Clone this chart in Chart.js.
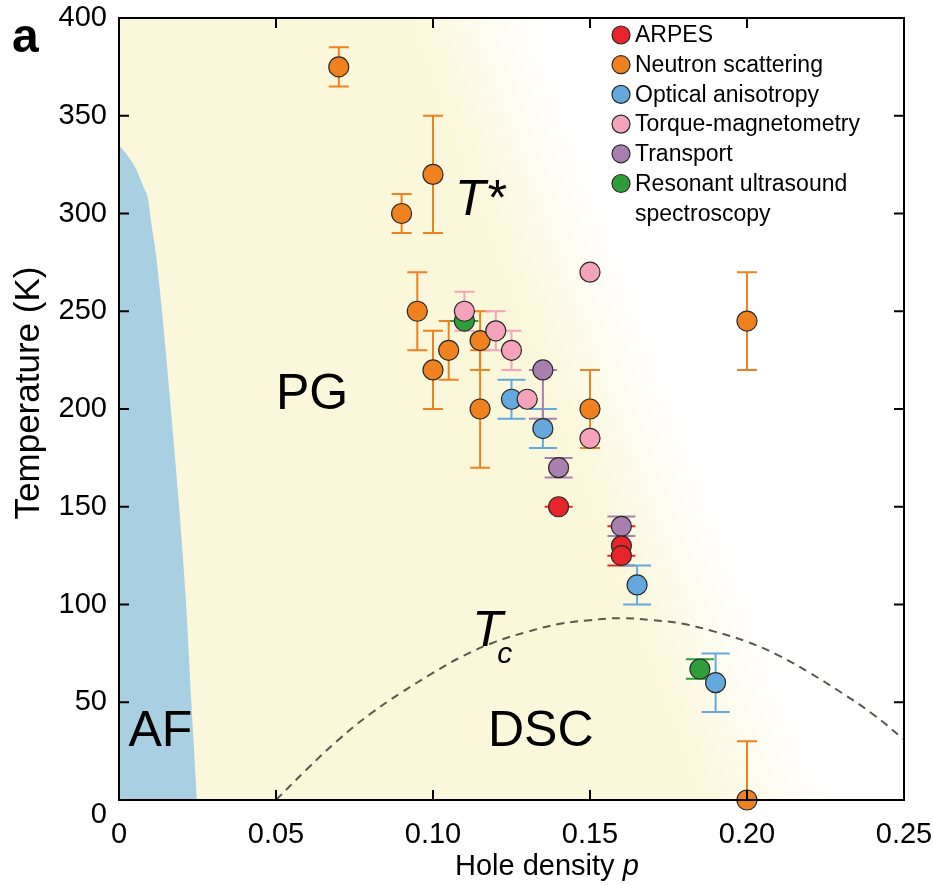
<!DOCTYPE html>
<html>
<head>
<meta charset="utf-8">
<script src="https://cdn.jsdelivr.net/npm/chart.js@4.4.1/dist/chart.umd.min.js"></script>
<style>
  html, body { margin: 0; padding: 0; background: #fff; }
  #wrap { width: 933px; height: 885px; }
</style>
</head>
<body>
<div id="wrap"><canvas id="myChart" width="933" height="885"></canvas></div>
<script>
const FONT = 'Arial, "Liberation Sans", Helvetica, sans-serif';

const xTicks = [0, 0.05, 0.1, 0.15, 0.2, 0.25];
const xTickLabels = ["0", "0.05", "0.10", "0.15", "0.20", "0.25"];
const yTicks = [0, 50, 100, 150, 200, 250, 300, 350, 400];

const seriesNames = ["ARPES", "Neutron scattering", "Optical anisotropy", "Torque-magnetometry", "Transport", "Resonant ultrasound spectroscopy"];
const seriesColors = ["#e8232a", "#f0811f", "#64a9dd", "#f4a3bb", "#a97fb2", "#2f9e3a"];

// ARPES
const arpesP = [0.14, 0.16, 0.16];
const arpesT = [150, 130, 125];
const arpesLo = [150, 120, 125];
const arpesHi = [150, 140, 125];

// neutron scattering
const neutronP = [0.07, 0.09, 0.10, 0.095, 0.10, 0.105, 0.115, 0.115, 0.15, 0.20, 0.20];
const neutronT = [375, 300, 320, 250, 220, 230, 235, 200, 200, 245, 0];
const neutronLo = [365, 290, 290, 230, 200, 215, 220, 170, 180, 220, 0];
const neutronHi = [385, 310, 350, 270, 240, 245, 250, 230, 220, 270, 30];

// optical anisotropy
const opticalP = [0.125, 0.135, 0.165, 0.19];
const opticalT = [205, 190, 110, 60];
const opticalLo = [195, 180, 100, 45];
const opticalHi = [215, 200, 120, 75];

// torque magnetometry
const torqueP = [0.11, 0.12, 0.125, 0.13, 0.15, 0.15];
const torqueT = [250, 240, 230, 205, 270, 185];
const torqueLo = [240, 230, 220, 205, 270, 185];
const torqueHi = [260, 250, 240, 205, 270, 185];

// transport
const transportP = [0.135, 0.14, 0.16];
const transportT = [220, 170, 140];
const transportLo = [195, 165, 135];
const transportHi = [220, 175, 145];

// resonant ultrasound
const rusP = [0.11, 0.185];
const rusT = [245, 67];
const rusLo = [245, 62];
const rusHi = [245, 72];

// AF boundary (p, T)
const afP = [0, 0.003, 0.005, 0.0077, 0.0093, 0.0102, 0.012, 0.0165, 0.0213, 0.023, 0.0248];
const afT = [335, 329, 324, 314, 307, 296, 276, 200, 102, 51, 0];

// superconducting dome Tc(p)
const tcP = [0.05, 0.06, 0.07, 0.08, 0.09, 0.10, 0.11, 0.12, 0.13, 0.14, 0.15, 0.16, 0.17, 0.18, 0.19, 0.20, 0.21, 0.22, 0.23, 0.24, 0.25];
const tcT = [0, 16, 31, 44, 55, 65, 74, 81, 86, 90, 92, 93, 92, 90, 86, 81, 74, 65, 55, 44, 31];

// pseudogap crossover edge (top point, bottom point)
const pgEdgeP = [0.112, 0.205];
const pgEdgeT = [400, 0];

const pts = (ps, ts) => ps.map((p, i) => ({ x: p, y: ts[i] }));

const series = [
  { p: arpesP, t: arpesT, lo: arpesLo, hi: arpesHi, cap: 28, order: 1 },
  { p: neutronP, t: neutronT, lo: neutronLo, hi: neutronHi, cap: 20, order: 5 },
  { p: opticalP, t: opticalT, lo: opticalLo, hi: opticalHi, cap: 28, order: 3 },
  { p: torqueP, t: torqueT, lo: torqueLo, hi: torqueHi, cap: 20, order: 0 },
  { p: transportP, t: transportT, lo: transportLo, hi: transportHi, cap: 28, order: 2 },
  { p: rusP, t: rusT, lo: rusLo, hi: rusHi, cap: 28, order: 4 },
];

const pointSets = series.map((s, i) => ({
  label: seriesNames[i],
  data: pts(s.p, s.t),
  backgroundColor: seriesColors[i],
  borderColor: "#2a2a2a",
  borderWidth: 1.2,
  pointRadius: 10,
  pointHoverRadius: 10,
  order: s.order,
  clip: false,
}));

// yellow PG background + error bars, under everything else
const underlay = {
  id: "underlay",
  beforeDatasetsDraw(chart) {
    const { ctx, chartArea: a, scales } = chart;
    const x = scales.x, y = scales.y;
    const x0 = x.getPixelForValue(pgEdgeP[0]), y0 = y.getPixelForValue(pgEdgeT[0]);
    const x1 = x.getPixelForValue(pgEdgeP[1]), y1 = y.getPixelForValue(pgEdgeT[1]);
    const len = Math.hypot(x1 - x0, y1 - y0);
    const nx = (y1 - y0) / len, ny = -(x1 - x0) / len;
    const cx = (x0 + x1) / 2, cy = (y0 + y1) / 2, fade = 60;
    const g = ctx.createLinearGradient(cx - nx * fade, cy - ny * fade, cx + nx * fade, cy + ny * fade);
    g.addColorStop(0, "#fbf7da");
    g.addColorStop(1, "#ffffff");
    ctx.save();
    ctx.fillStyle = g;
    ctx.fillRect(a.left, a.top, a.width, a.height);

    ctx.lineWidth = 2;
    series.forEach((s, i) => {
      ctx.strokeStyle = seriesColors[i];
      s.p.forEach((p, j) => {
        const px = x.getPixelForValue(p);
        const yl = y.getPixelForValue(s.lo[j]);
        const yh = y.getPixelForValue(s.hi[j]);
        ctx.beginPath();
        ctx.moveTo(px, yl); ctx.lineTo(px, yh);
        ctx.moveTo(px - s.cap / 2, yl); ctx.lineTo(px + s.cap / 2, yl);
        ctx.moveTo(px - s.cap / 2, yh); ctx.lineTo(px + s.cap / 2, yh);
        ctx.stroke();
      });
    });
    ctx.restore();
  },
  afterDraw(chart) {
    const { ctx, chartArea: a, scales } = chart;
    const x = scales.x, y = scales.y;
    ctx.save();
    // frame + inward ticks
    ctx.strokeStyle = "#000";
    ctx.lineWidth = 2;
    ctx.strokeRect(a.left, a.top, a.width, a.height);
    ctx.beginPath();
    xTicks.forEach(v => {
      const px = x.getPixelForValue(v);
      ctx.moveTo(px, a.bottom); ctx.lineTo(px, a.bottom - 10);
      ctx.moveTo(px, a.top); ctx.lineTo(px, a.top + 10);
    });
    yTicks.forEach(v => {
      const py = y.getPixelForValue(v);
      ctx.moveTo(a.left, py); ctx.lineTo(a.left + 10, py);
      ctx.moveTo(a.right, py); ctx.lineTo(a.right - 10, py);
    });
    ctx.stroke();

    // region labels
    const at = (p, t) => [x.getPixelForValue(p), y.getPixelForValue(t)];
    ctx.fillStyle = "#000";
    ctx.textBaseline = "alphabetic";
    ctx.textAlign = "left";
    ctx.font = "50px " + FONT;
    let q = at(0.050, 200); ctx.fillText("PG", q[0], q[1]);
    q = at(0.003, 27.5); ctx.fillText("AF", q[0], q[1]);
    q = at(0.1175, 27.5); ctx.fillText("DSC", q[0], q[1]);
    ctx.font = "italic 50px " + FONT;
    q = at(0.107, 299); ctx.fillText("T*", q[0], q[1]);
    q = at(0.1125, 79); ctx.fillText("T", q[0], q[1]);
    ctx.font = "italic 30px " + FONT;
    q = at(0.1205, 70); ctx.fillText("c", q[0], q[1]);

    // panel letter
    ctx.font = "bold 48px " + FONT;
    ctx.fillText("a", 12, 52);

    // axis titles
    ctx.font = "29px " + FONT;
    const base = "Hole density ";
    ctx.fillText(base, 455, 875);
    const w = ctx.measureText(base).width;
    ctx.font = "italic 29px " + FONT;
    ctx.fillText("p", 455 + w, 875);

    ctx.save();
    ctx.translate(39, 393);
    ctx.rotate(-Math.PI / 2);
    ctx.textAlign = "center";
    ctx.font = "35px " + FONT;
    ctx.fillText("Temperature (K)", 0, 0);
    ctx.restore();

    // legend
    ctx.font = "23px " + FONT;
    ctx.textBaseline = "middle";
    let ly = a.top + 17;
    const mx = a.right - 283;
    seriesNames.forEach((name, i) => {
      ctx.beginPath();
      ctx.arc(mx, ly, 9, 0, Math.PI * 2);
      ctx.fillStyle = seriesColors[i];
      ctx.fill();
      ctx.lineWidth = 1.2;
      ctx.strokeStyle = "#2a2a2a";
      ctx.stroke();
      ctx.fillStyle = "#000";
      const lines = name === "Resonant ultrasound spectroscopy" ? ["Resonant ultrasound", "spectroscopy"] : [name];
      lines.forEach(line => {
        ctx.fillText(line, mx + 14, ly + 1);
        ly += 29.7;
      });
    });
    ctx.restore();
  }
};

const ctx = document.getElementById("myChart");

new Chart(ctx, {
  type: "scatter",
  data: {
    datasets: [
      ...pointSets,
      {
        label: "Tc",
        data: pts(tcP, tcT),
        showLine: true,
        borderColor: "#58584f",
        borderWidth: 2,
        borderDash: [8, 6],
        pointRadius: 0,
        tension: 0.4,
        fill: false,
        order: 8,
      },
      {
        label: "AF",
        data: pts(afP, afT),
        showLine: true,
        borderWidth: 0,
        borderColor: "rgba(0,0,0,0)",
        backgroundColor: "#a9cfe2",
        pointRadius: 0,
        cubicInterpolationMode: "monotone",
        fill: "origin",
        order: 9,
      },
    ],
  },
  options: {
    responsive: false,
    animation: false,
    devicePixelRatio: 1,
    events: [],
    layout: { padding: { top: 18, right: 29, left: 0, bottom: 0 } },
    plugins: {
      legend: { display: false },
      tooltip: { enabled: false },
    },
    scales: {
      x: {
        type: "linear",
        min: 0,
        max: 0.25,
        afterBuildTicks: s => { s.ticks = xTicks.map(v => ({ value: v })); },
        afterFit: s => { s.height = 85; s.paddingLeft = 0; s.paddingRight = 0; },
        grid: { display: false, drawTicks: false },
        border: { display: false },
        ticks: {
          autoSkip: false,
          maxRotation: 0,
          padding: 18,
          color: "#000",
          font: { family: FONT, size: 29 },
          callback: (v, i) => xTickLabels[i],
        },
      },
      y: {
        type: "linear",
        min: 0,
        max: 400,
        afterBuildTicks: s => { s.ticks = yTicks.map(v => ({ value: v })); },
        afterFit: s => { s.width = 119; s.paddingTop = 0; s.paddingBottom = 0; },
        grid: { display: false, drawTicks: false },
        border: { display: false },
        ticks: {
          autoSkip: false,
          padding: 12,
          color: "#000",
          font: { family: FONT, size: 29, lineHeight: 1 },
          callback: v => (v === 0 ? ["", "0"] : String(v)),
        },
      },
    },
  },
  plugins: [underlay],
});
</script>
</body>
</html>
